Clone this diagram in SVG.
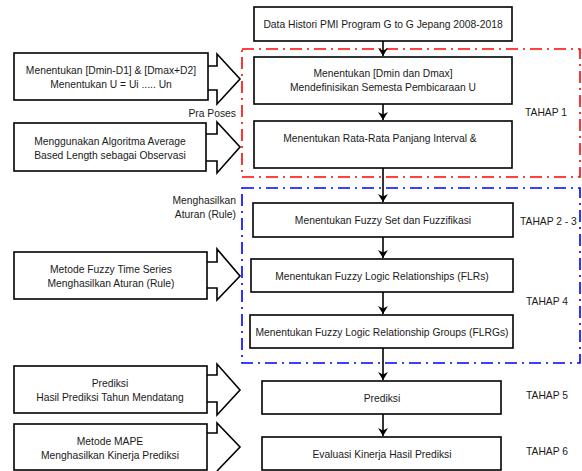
<svg xmlns="http://www.w3.org/2000/svg" width="582" height="471" viewBox="0 0 582 471">
<defs>
<style>
.box{fill:#fff;stroke:#000;stroke-width:1.6}
.blk{fill:#fff;stroke:#000;stroke-width:1.6;stroke-linejoin:miter}
.t{font-family:"Liberation Sans",Arial,sans-serif;font-size:10.3px;fill:#1a1a1a;text-anchor:middle}
.tl{font-family:"Liberation Sans",Arial,sans-serif;font-size:10.3px;fill:#1a1a1a}
.tr{font-family:"Liberation Sans",Arial,sans-serif;font-size:10.3px;fill:#1a1a1a;text-anchor:end}
.red{fill:none;stroke:#ff0000;stroke-width:1.6;stroke-dasharray:12 5 2 5}
.blue{fill:none;stroke:#0000ff;stroke-width:1.6;stroke-dasharray:12 5 2 5}
.conn{stroke:#000;stroke-width:1.6;fill:none}
</style>
<marker id="ah" markerWidth="10" markerHeight="10" refX="8" refY="5" orient="auto" markerUnits="userSpaceOnUse">
<path d="M0,0 L8,5 L0,10 L2.5,5 Z" fill="#000"/>
</marker>
</defs>
<rect width="582" height="471" fill="#fff"/>

<g id="stage-frames">
<rect class="red" x="242" y="49" width="338" height="128"/>
<rect class="blue" x="242" y="188" width="338" height="175"/>
</g>

<g id="connectors">
<line class="conn" x1="383" y1="41" x2="383" y2="56" marker-end="url(#ah)"/>
<line class="conn" x1="383" y1="104" x2="383" y2="120" marker-end="url(#ah)"/>
<line class="conn" x1="383" y1="168" x2="383" y2="202" marker-end="url(#ah)"/>
<line class="conn" x1="383" y1="237" x2="383" y2="258" marker-end="url(#ah)"/>
<line class="conn" x1="383" y1="292" x2="383" y2="314" marker-end="url(#ah)"/>
<line class="conn" x1="383" y1="348" x2="383" y2="380" marker-end="url(#ah)"/>
<line class="conn" x1="383" y1="414" x2="383" y2="436" marker-end="url(#ah)"/>
<path class="blk" d="M208,66 L217,66 L217,54 L240,79 L217,104 L217,90 L208,90"/>
<path class="blk" d="M206,134 L217,134 L217,122 L240,147 L217,173 L217,161 L206,161"/>
<path class="blk" d="M207,262 L217,262 L217,249 L240,276 L217,300 L217,288 L207,288"/>
<path class="blk" d="M207,375 L217,375 L217,364 L240,390 L217,415 L217,402 L207,402"/>
<path class="blk" d="M207,433 L217,433 L217,423 L240,447 L217,471"/>
</g>

<g id="n-data">
<rect class="box" x="254" y="7" width="258" height="34"/>
<text class="t" x="383" y="28">Data Histori PMI Program G to G Jepang 2008-2018</text>
</g>
<g id="n-dmin">
<rect class="box" x="254" y="57" width="258" height="47"/>
<text class="t" x="383" y="77">Menentukan [Dmin dan Dmax]</text>
<text class="t" x="383" y="91">Mendefinisikan Semesta Pembicaraan U</text>
</g>
<g id="n-rata">
<rect class="box" x="254" y="121" width="258" height="47"/>
<text class="t" x="380" y="142">Menentukan Rata-Rata Panjang Interval &amp;</text>
</g>
<g id="n-fuzzyset">
<rect class="box" x="253" y="203" width="260" height="34"/>
<text class="t" x="383" y="224">Menentukan Fuzzy Set dan Fuzzifikasi</text>
</g>
<g id="n-flr">
<rect class="box" x="251" y="259" width="262" height="33"/>
<text class="t" x="382" y="280">Menentukan Fuzzy Logic Relationships (FLRs)</text>
</g>
<g id="n-flrg">
<rect class="box" x="250" y="315" width="263" height="33"/>
<text class="t" x="382" y="336">Menentukan Fuzzy Logic Relationship Groups (FLRGs)</text>
</g>
<g id="n-prediksi">
<rect class="box" x="262" y="381" width="239" height="33"/>
<text class="t" x="382" y="402">Prediksi</text>
</g>
<g id="n-evaluasi">
<rect class="box" x="262" y="437" width="239" height="33"/>
<text class="t" x="382" y="458">Evaluasi Kinerja Hasil Prediksi</text>
</g>

<g id="n-left1">
<rect class="box" x="14" y="53" width="194" height="47"/>
<text class="t" x="111" y="74">Menentukan [Dmin-D1] &amp; [Dmax+D2]</text>
<text class="t" x="111" y="88">Menentukan U = Ui ..... Un</text>
</g>
<g id="n-left2">
<rect class="box" x="14" y="123" width="192" height="48"/>
<text class="t" x="110" y="145">Menggunakan Algoritma Average</text>
<text class="t" x="110" y="159">Based Length sebagai Observasi</text>
</g>
<g id="n-left3">
<rect class="box" x="14" y="252" width="193" height="47"/>
<text class="t" x="111" y="273">Metode Fuzzy Time Series</text>
<text class="t" x="111" y="287">Menghasilkan Aturan (Rule)</text>
</g>
<g id="n-left4">
<rect class="box" x="14" y="366" width="193" height="47"/>
<text class="t" x="110" y="387">Prediksi</text>
<text class="t" x="110" y="401">Hasil Prediksi Tahun Mendatang</text>
</g>
<g id="n-left5">
<rect class="box" x="14" y="424" width="193" height="46"/>
<text class="t" x="110" y="445">Metode MAPE</text>
<text class="t" x="110" y="459">Menghasilkan Kinerja Prediksi</text>
</g>

<g id="labels">
<text class="tr" x="236" y="117">Pra Poses</text>
<text class="tr" x="236" y="204">Menghasilkan</text>
<text class="tr" x="236" y="218">Aturan (Rule)</text>
<text class="tl" x="525" y="116">TAHAP 1</text>
<text class="tl" x="520" y="225">TAHAP 2 - 3</text>
<text class="tl" x="526" y="305">TAHAP 4</text>
<text class="tl" x="526" y="399">TAHAP 5</text>
<text class="tl" x="526" y="455">TAHAP 6</text>
</g>
</svg>
